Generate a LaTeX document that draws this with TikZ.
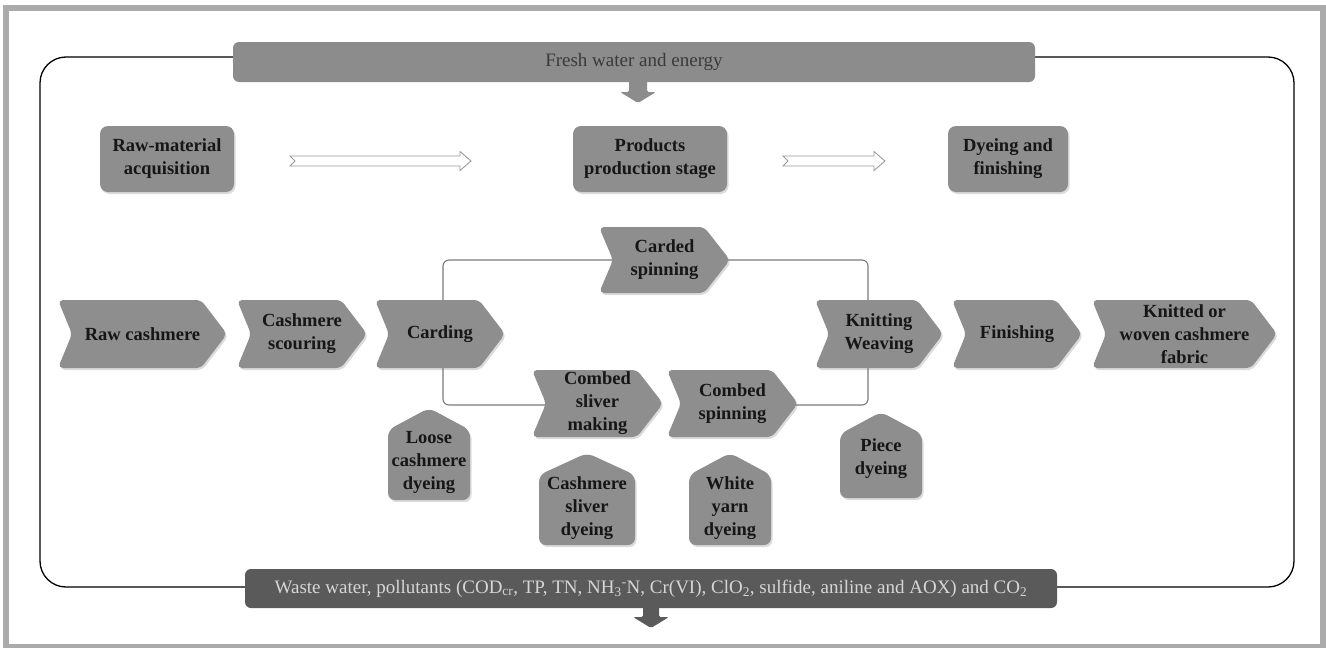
\documentclass[tikz,border=0pt]{standalone}
\usepackage{fontspec}
\setmainfont{Liberation Serif}
\usetikzlibrary{shadows}
\pgfdeclarelayer{bg}
\pgfsetlayers{bg,main}
\definecolor{boxgray}{HTML}{8E8E8E}
\definecolor{topgray}{HTML}{8C8C8C}
\definecolor{darkband}{HTML}{5A5A5A}
\definecolor{framegray}{HTML}{ABABAB}
\definecolor{linegray}{HTML}{7A7A7A}
\definecolor{toptext}{HTML}{3A3A3A}
\definecolor{bottext}{HTML}{D6D6D6}
\definecolor{labeltext}{HTML}{161616}
\definecolor{openarrow}{HTML}{9A9A9A}
\tikzset{
  shp/.style={fill=boxgray, rounded corners=5pt,
    drop shadow={shadow xshift=1.5pt, shadow yshift=-2pt, opacity=0.28}},
  lbl/.style={font=\fontsize{18.5}{23}\selectfont\bfseries, text=labeltext,
    align=center, inner sep=0pt},
  topbox/.style={shp, rounded corners=8pt, lbl, minimum height=66pt},
  banner/.style={rounded corners=6pt, inner sep=0pt, align=center,
    font=\fontsize{19}{22}\selectfont},
  conn/.style={draw=linegray, line width=1.1pt, rounded corners=6pt},
  openarr/.style={draw=openarrow, fill=white, line width=0.9pt, line join=miter},
}
% chevron: name, x-left, x-tip, y-centre, half-height, text
\newcommand\chevshape[6]{%
  \fill[shp] (#2,#4-#5) -- ({#3-26},#4-#5) -- (#3,#4) -- ({#3-26},#4+#5)
    -- (#2,#4+#5) -- ({#2+14},#4) -- cycle;
  \node[lbl] (#1) at ({(#2+#3)/2},#4) {#6};}
% house shape: name, x-left, x-right, y-top, y-bottom, text y, text
\newcommand\houseshape[7]{%
  \fill[shp, rounded corners=7pt] ({(#2+#3)/2},#4) -- (#3,#4+22) -- (#3,#5)
    -- (#2,#5) -- (#2,#4+22) -- cycle;
  \node[lbl] (#1) at ({(#2+#3)/2},#6) {#7};}
\begin{document}
\begin{tikzpicture}[x=1pt,y=-1pt]
\useasboundingbox (0,0) rectangle (1326,648);
\begin{pgfonlayer}{bg}
\fill[white] (0,0) rectangle (1326,648);
\draw[black, line width=1.3pt, rounded corners=26pt] (40,57) rectangle (1294,587);
\end{pgfonlayer}
\draw[framegray, line width=6pt] (6,8) rectangle (1323,647);

% banners
\node[banner, fill=topgray, text=toptext, minimum width=802pt, minimum height=40pt]
  (fresh) at (634,62) {Fresh water and energy};
\fill[topgray, rounded corners=1.5pt] (629,80) -- (647,80) -- (647,92) -- (656,92)
  -- (638,103) -- (620,92) -- (629,92) -- cycle;

\node[banner, fill=darkband, text=bottext, minimum width=812pt, minimum height=39pt]
  (waste) at (651,588.5) {Waste water, pollutants (COD\textsubscript{cr}, TP, TN,
  NH\textsubscript{3}\textsuperscript{-}N, Cr(VI), ClO\textsubscript{2}, sulfide,
  aniline and AOX) and CO\textsubscript{2}};
\fill[darkband, rounded corners=1.5pt] (643,606) -- (659,606) -- (659,617) -- (669,617)
  -- (651,628) -- (633,617) -- (643,617) -- cycle;

% stage boxes
\node[topbox, minimum width=134pt] (rawmat) at (167,159) {Raw-material\\acquisition};
\node[topbox, minimum width=154pt] (prod) at (650,159) {Products\\production stage};
\node[topbox, minimum width=120pt] (dyefin) at (1008,159) {Dyeing and\\finishing};

% open arrows
\draw[openarr] (290,156) -- (460,156) -- (460,151.5) -- (471,161) -- (460,170.5)
  -- (460,166) -- (290,166) -- (295,161) -- cycle;
\draw[openarr] (783,156) -- (874,156) -- (874,151.5) -- (885,161) -- (874,170.5)
  -- (874,166) -- (783,166) -- (788,161) -- cycle;

% main chain
\chevshape{rawc}{58}{227}{334}{34}{Raw cashmere}
\chevshape{scour}{237}{367}{334}{34}{Cashmere\\scouring}
\chevshape{card}{375}{505}{334}{34}{Carding}
\chevshape{cardsp}{599}{730}{260}{33}{Carded\\spinning}
\chevshape{knit}{815}{943}{334}{34}{Knitting\\Weaving}
\chevshape{finish}{952}{1082}{334}{34}{Finishing}
\chevshape{fabric}{1092}{1277}{334}{34}{Knitted or\\woven cashmere\\fabric}
\chevshape{csliver}{532}{663}{403.5}{33.5}{Combed\\sliver\\making}
\chevshape{cspin}{667}{798}{403.5}{33.5}{Combed\\spinning}

% dyeing options
\houseshape{loose}{388}{470}{408}{500}{462}{Loose\\cashmere\\dyeing}
\houseshape{slidye}{539}{635}{453}{545}{508}{Cashmere\\sliver\\dyeing}
\houseshape{whitedye}{689}{771}{453}{545}{508}{White\\yarn\\dyeing}
\houseshape{piece}{840}{922}{412}{498}{459}{Piece\\dyeing}

% connectors
\begin{pgfonlayer}{bg}
\draw[conn] ([xshift=3pt]card.center) |- (cardsp.center);
\draw[conn] (cardsp.center) -| ([xshift=-11pt]knit.center);
\draw[conn] ([xshift=3pt]card.center) |- ([yshift=-1.5pt]csliver.center);
\draw[conn] ([yshift=-1.5pt]cspin.center) -| ([xshift=-11pt]knit.center);
\end{pgfonlayer}
\end{tikzpicture}
\end{document}
